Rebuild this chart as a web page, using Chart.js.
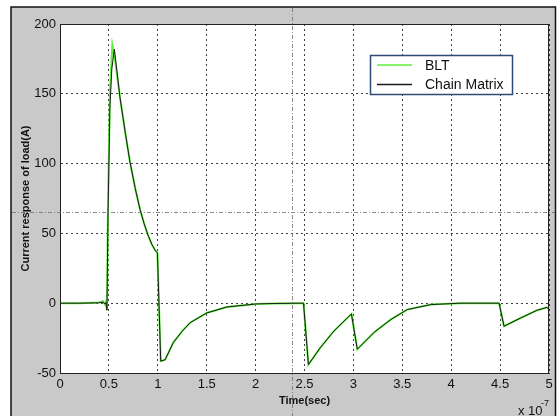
<!DOCTYPE html>
<html>
<head>
<meta charset="utf-8">
<script src="https://cdn.jsdelivr.net/npm/chart.js@4"></script>
<style>
  html, body { margin: 0; padding: 0; background: #fff; }
  #wrap { width: 559px; height: 416px; }
</style>
</head>
<body>
<div id="wrap"><canvas id="myChart" width="559" height="416"></canvas></div>
<script>
// time in units of 1e-7 s, current in A
let timeBLT = [0, 0.2, 0.4, 0.44, 0.46, 0.47, 0.48, 0.49, 0.51, 0.535, 0.56, 0.614, 0.67, 0.716, 0.77, 0.819, 0.86, 0.904, 0.94, 0.972, 0.996, 1.03, 1.075, 1.16, 1.25, 1.33, 1.50, 1.706, 2.01, 2.2, 2.456, 2.49, 2.54, 2.66, 2.80, 2.98, 3.04, 3.21, 3.38, 3.55, 3.79, 4.09, 4.49, 4.54, 4.71, 4.88, 4.98, 5.0];
let currentBLT = [0, 0, 0.5, 1.5, -1, 1, -5, 65, 150, 185, 176, 147, 121, 101, 82, 67, 57, 48, 42, 38, 36, -41.5, -40.5, -28, -20, -14, -7, -2.7, -0.5, -0.2, 0, 0, -44, -32, -20, -7.7, -33, -21, -11.8, -4.6, -1, 0, 0, -16.5, -10.6, -5, -3, -4.5];

let timeChain = [0, 0.2, 0.4, 0.44, 0.46, 0.47, 0.48, 0.49, 0.51, 0.53, 0.556, 0.614, 0.67, 0.716, 0.77, 0.819, 0.86, 0.904, 0.94, 0.972, 0.996, 1.03, 1.075, 1.16, 1.25, 1.33, 1.50, 1.706, 2.01, 2.2, 2.456, 2.49, 2.54, 2.66, 2.80, 2.98, 3.04, 3.21, 3.38, 3.55, 3.79, 4.09, 4.49, 4.54, 4.71, 4.88, 4.98, 5.0];
let currentChain = [0, 0, 0.3, 0.8, -0.5, 0.5, -5, 60, 140, 168, 182, 147, 121, 101, 82, 67, 57, 48, 42, 38, 36, -41.5, -40.5, -28, -20, -14, -7, -2.7, -0.5, -0.2, 0, 0, -44, -32, -20, -7.7, -33, -21, -11.8, -4.6, -1, 0, 0, -16.5, -10.6, -5, -3, -4.5];

let xTickLabels = ['0', '0.5', '1', '1.5', '2', '2.5', '3', '3.5', '4', '4.5', '5'];
let yTicks = [-50, 0, 50, 100, 150, 200];

function toPoints(xs, ys){
  return xs.map((x, i) => ({x: x, y: ys[i]}));
}

let figurePlugin = {
  id: 'figure',
  beforeDraw(chart){
    let ctx = chart.ctx;
    ctx.save();
    ctx.fillStyle = '#ffffff';
    ctx.fillRect(0, 0, chart.width, chart.height);
    ctx.fillStyle = '#c9c9c9';
    ctx.fillRect(11, 7, 545, 420);
    let a = chart.chartArea;
    ctx.fillStyle = '#ffffff';
    ctx.fillRect(a.left, a.top, a.right - a.left, a.bottom - a.top);
    ctx.restore();
  },
  afterDraw(chart){
    let ctx = chart.ctx;
    let a = chart.chartArea;
    ctx.save();
    // plot box
    ctx.strokeStyle = '#222';
    ctx.lineWidth = 1;
    ctx.strokeRect(a.left + 0.5, a.top + 0.5, a.right - a.left - 1, a.bottom - a.top);
    // outer frame
    ctx.strokeStyle = '#111';
    ctx.lineWidth = 1.5;
    ctx.strokeRect(11, 7, 544.5, 420);

    // legend
    let lx = 370.5, ly = 55.5, lw = 142, lh = 39;
    ctx.fillStyle = '#fff';
    ctx.fillRect(lx, ly, lw, lh);
    ctx.strokeStyle = '#2e4a78';
    ctx.lineWidth = 1.5;
    ctx.strokeRect(lx, ly, lw, lh);
    ctx.font = '14px "Liberation Sans", Arial, sans-serif';
    ctx.textBaseline = 'middle';
    ctx.textAlign = 'left';
    chart.data.datasets.forEach((ds, i) => {
      let y = 65 + i * 19.5;
      ctx.strokeStyle = ds.borderColor;
      ctx.lineWidth = 1.5;
      ctx.beginPath();
      ctx.moveTo(377, y);
      ctx.lineTo(412, y);
      ctx.stroke();
      ctx.fillStyle = '#111';
      ctx.fillText(ds.label, 425, y + 1);
    });

    // exponent label
    ctx.fillStyle = '#111';
    ctx.font = '13px "Liberation Sans", Arial, sans-serif';
    ctx.textBaseline = 'alphabetic';
    ctx.fillText('x 10', 518, 415);
    ctx.font = '9px "Liberation Sans", Arial, sans-serif';
    ctx.fillText('-7', 541, 406);

    // cursor crosshair
    ctx.strokeStyle = 'rgba(110,110,110,0.8)';
    ctx.lineWidth = 1;
    ctx.setLineDash([4, 2, 1, 2]);
    ctx.beginPath();
    ctx.moveTo(292.5, 8);
    ctx.lineTo(292.5, 416);
    ctx.moveTo(12, 212.5);
    ctx.lineTo(555, 212.5);
    ctx.stroke();
    ctx.restore();
  }
};

let chart = new Chart(document.getElementById('myChart'), {
  type: 'line',
  data: {
    datasets: [
      {
        label: 'BLT',
        data: toPoints(timeBLT, currentBLT),
        borderColor: '#5cf03c',
        borderWidth: 2,
        pointRadius: 0,
        tension: 0,
        order: 2
      },
      {
        label: 'Chain Matrix',
        data: toPoints(timeChain, currentChain),
        borderColor: '#1a1a1a',
        borderWidth: 1,
        pointRadius: 0,
        tension: 0,
        order: 1
      }
    ]
  },
  options: {
    responsive: false,
    animation: false,
    events: [],
    layout: { padding: { left: 0, top: 24, right: 10, bottom: 0 } },
    plugins: {
      legend: { display: false },
      tooltip: { enabled: false }
    },
    scales: {
      x: {
        type: 'linear',
        min: 0,
        max: 5,
        afterBuildTicks: (scale) => {
          scale.ticks = xTickLabels.map(t => ({value: parseFloat(t)}));
        },
        afterFit: (scale) => { scale.height = 43; },
        ticks: {
          callback: (v) => xTickLabels.find(t => parseFloat(t) === v),
          color: '#111',
          font: { family: '"Liberation Sans", Arial, sans-serif', size: 13 },
          padding: 4,
          maxRotation: 0,
          autoSkip: false
        },
        grid: {
          color: 'rgba(0,0,0,0.75)',
          drawTicks: false
        },
        border: { color: '#222', dash: [2, 3] },
        title: {
          display: true,
          text: 'Time(sec)',
          color: '#111',
          font: { family: '"Liberation Sans", Arial, sans-serif', size: 11, weight: 'bold' },
          padding: { top: 0, bottom: 8 }
        }
      },
      y: {
        min: -50,
        max: 200,
        afterBuildTicks: (scale) => {
          scale.ticks = yTicks.map(v => ({value: v}));
        },
        afterFit: (scale) => { scale.width = 60; },
        ticks: {
          color: '#111',
          font: { family: '"Liberation Sans", Arial, sans-serif', size: 13 },
          padding: 4
        },
        grid: {
          color: 'rgba(0,0,0,0.75)',
          drawTicks: false
        },
        border: { color: '#222', dash: [2, 3] },
        title: {
          display: true,
          text: 'Current response of load(A)',
          color: '#111',
          font: { family: '"Liberation Sans", Arial, sans-serif', size: 11, weight: 'bold' },
          padding: { top: 19, bottom: 0 }
        }
      }
    }
  },
  plugins: [figurePlugin]
});
</script>
</body>
</html>
